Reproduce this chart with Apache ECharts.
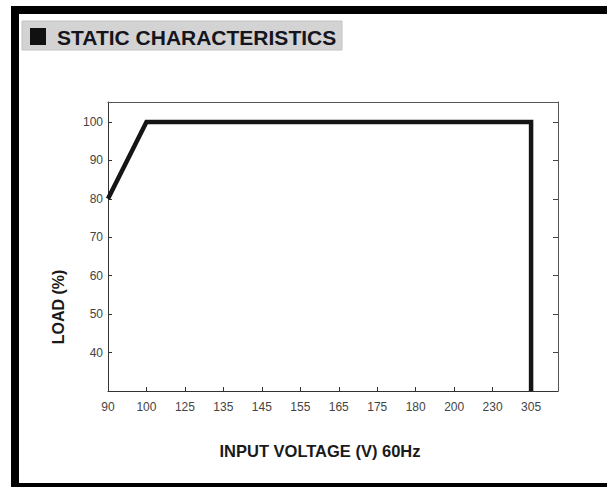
<!DOCTYPE html>
<html>
<head>
<meta charset="utf-8">
<script src="https://cdn.jsdelivr.net/npm/echarts@6/dist/echarts.min.js"></script>
<style>
html,body{margin:0;padding:0;background:#fff;}
#chart{width:607px;height:487px;}
</style>
</head>
<body>
<div id="chart"></div>
<script>
// Data
const xLabels = ['90','100','125','135','145','155','165','175','180','200','230','305'];
const loadVoltages = ['90','100','305','305'];
const loadValues = [80, 100, 100, 30];
const yTicks = [40, 50, 60, 70, 80, 90, 100];
const headerText = 'STATIC CHARACTERISTICS';
const xTitle = 'INPUT VOLTAGE (V) 60Hz';
const yTitle = 'LOAD (%)';

const xIdx = xLabels.map((_, i) => i);
const seriesData = loadVoltages.map((v, i) => [xLabels.indexOf(v), loadValues[i]]);

const chart = echarts.init(document.getElementById('chart'), null, {renderer: 'svg'});
const font = "'Liberation Sans', Arial, sans-serif";

chart.setOption({
  backgroundColor: '#ffffff',
  animation: false,
  grid: {left: 108, right: 49, top: 102, bottom: 96, containLabel: false},
  xAxis: [{
    type: 'value', min: 0, max: 11.7, position: 'bottom',
    axisLine: {show: true, lineStyle: {color: '#333', width: 1}},
    axisTick: {show: true, inside: true, length: 4, customValues: xIdx, lineStyle: {color: '#333'}},
    axisLabel: {customValues: xIdx, formatter: v => xLabels[Math.round(v)], color: '#444', fontSize: 12, fontFamily: font, margin: 10},
    splitLine: {show: false}
  }, {
    type: 'value', min: 0, max: 11.7, position: 'top',
    axisLine: {show: true, onZero: false, lineStyle: {color: '#555', width: 1}},
    axisTick: {show: false}, axisLabel: {show: false}, splitLine: {show: false}
  }],
  yAxis: [{
    type: 'value', min: 30, max: 105.2, position: 'left',
    axisLine: {show: true, onZero: false, lineStyle: {color: '#333', width: 1}},
    axisTick: {show: true, inside: true, length: 4, customValues: yTicks, lineStyle: {color: '#333'}},
    axisLabel: {customValues: yTicks, color: '#444', fontSize: 12, fontFamily: font, margin: 5},
    splitLine: {show: false}
  }, {
    type: 'value', min: 30, max: 105.2, position: 'right',
    axisLine: {show: true, onZero: false, lineStyle: {color: '#555', width: 1}},
    axisTick: {show: true, inside: true, length: 5, customValues: yTicks, lineStyle: {color: '#444'}},
    axisLabel: {show: false},
    splitLine: {show: false}
  }],
  series: [{
    type: 'line',
    xAxisIndex: 0, yAxisIndex: 0,
    data: seriesData,
    symbol: 'none',
    lineStyle: {color: '#151515', width: 4.5, join: 'miter', cap: 'butt'},
    z: 5
  }],
  graphic: [
    {type: 'rect', shape: {x: 15, y: 10, width: 640, height: 477}, style: {fill: 'none', stroke: '#000', lineWidth: 8}, silent: true},
    {type: 'rect', shape: {x: 22, y: 21, width: 320, height: 29}, style: {fill: '#d3d3d3', stroke: '#c2c2c2', lineWidth: 1}, silent: true},
    {type: 'rect', shape: {x: 30, y: 28, width: 16, height: 17}, style: {fill: '#111'}, silent: true},
    {type: 'text', x: 57, y: 37.5, style: {text: headerText, fill: '#151520', font: "bold 21px " + font, textAlign: 'left', textVerticalAlign: 'middle'}},
    {type: 'text', x: 320, y: 451, style: {text: xTitle, fill: '#1a1a1a', font: "bold 16.5px " + font, textAlign: 'center', textVerticalAlign: 'middle'}},
    {type: 'text', x: 58.5, y: 307, rotation: Math.PI / 2, style: {text: yTitle, fill: '#1a1a1a', font: "bold 16px " + font, textAlign: 'center', textVerticalAlign: 'middle'}}
  ]
});
</script>
</body>
</html>
